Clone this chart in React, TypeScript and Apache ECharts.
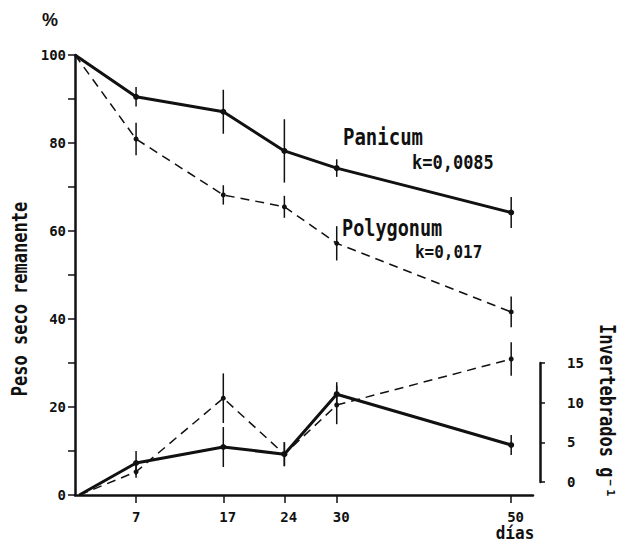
import React, { useEffect, useRef } from "react";
import * as echarts from "echarts";

// Remaining dry weight (%) vs days
const days = [0, 7, 17, 24, 30, 50];
const panicum = [100, 90.5, 87.1, 78.2, 74.3, 64.2];
const panicumErr = [0, 2.2, 5, 7.2, 2, 3.5];
const polygonum = [100, 80.9, 68.2, 65.5, 57.2, 41.6];
const polygonumErr = [0, 3.7, 2.2, 2.5, 3.9, 3.5];

// Invertebrates per g vs days
const invDays = [0.5, 7, 17, 24, 30, 50];
const invPanicum = [0, 4.0, 6.0, 5.1, 12.6, 6.25];
const invPanicumErr = [0, 1.5, 2.5, 1.5, 1.5, 1.25];
const invPolygonum = [0, 2.9, 12.1, 5.1, 11.25, 17];
const invPolygonumErr = [0, 0.75, 3.1, 1.5, 2.4, 2.1];

const xTicks = [7, 17, 24, 30, 50];
const invTicks = [0, 5, 10, 15];

const MONO = "'DejaVu Sans Mono', 'Liberation Mono', monospace";
const INK = "#111";

function lineData(xs: number[], ys: number[]) {
  return xs.map((x, i) =>
    i === 0 ? { value: [x, ys[i]], symbol: "none" } : { value: [x, ys[i]] }
  );
}

function errData(xs: number[], ys: number[], es: number[]) {
  return xs
    .map((x, i) => [x, ys[i] - es[i], ys[i] + es[i]])
    .filter((_, i) => es[i] > 0);
}

const errRender = (params: any, api: any) => {
  const x = api.value(0);
  const p1 = api.coord([x, api.value(1)]);
  const p2 = api.coord([x, api.value(2)]);
  return {
    type: "line",
    shape: { x1: p1[0], y1: p1[1], x2: p2[0], y2: p2[1] },
    style: { stroke: INK, lineWidth: 1.5 },
  };
};

export default function App() {
  const ref = useRef<HTMLDivElement>(null);
  useEffect(() => {
    if (!ref.current) return;
    const chart = echarts.init(ref.current, null, { renderer: "svg" });
    const axisNum = { fontFamily: MONO, fontSize: 14, fontWeight: "bold" as const, color: INK };
    const solidSeries = (name: string, xs: number[], ys: number[], yIdx: number) => ({
      name,
      type: "line",
      xAxisIndex: 0,
      yAxisIndex: yIdx,
      data: lineData(xs, ys),
      symbol: "circle",
      symbolSize: 6,
      lineStyle: { color: INK, width: 3 },
      itemStyle: { color: INK },
      z: 3,
    });
    const dashedSeries = (name: string, xs: number[], ys: number[], yIdx: number) => ({
      name,
      type: "line",
      xAxisIndex: 0,
      yAxisIndex: yIdx,
      data: lineData(xs, ys),
      symbol: "circle",
      symbolSize: 5,
      lineStyle: { color: INK, width: 1.5, type: [9, 6] },
      itemStyle: { color: INK },
      z: 2,
    });
    const errSeries = (xs: number[], ys: number[], es: number[], yIdx: number) => ({
      type: "custom",
      xAxisIndex: 0,
      yAxisIndex: yIdx,
      renderItem: errRender,
      data: errData(xs, ys, es),
      encode: { x: 0, y: [1, 2] },
      z: 1,
    });
    const txt = (text: string, size: number, extra: any = {}) => ({
      text,
      fontFamily: MONO,
      fontSize: size,
      fontWeight: "bold",
      fill: INK,
      align: "center",
      verticalAlign: "middle",
      ...extra,
    });

    chart.setOption({
      animation: false,
      backgroundColor: "#fff",
      grid: [
        { left: 75, right: 86, top: 55, bottom: 50, outerBoundsMode: "none" },
        { left: 540, width: 15, top: 363, height: 119, outerBoundsMode: "none" },
      ],
      xAxis: [
        {
          type: "value",
          gridIndex: 0,
          min: 0,
          max: 52.5,
          splitLine: { show: false },
          axisLine: { lineStyle: { color: INK, width: 2.5 } },
          axisTick: { customValues: xTicks, length: 8, lineStyle: { color: INK, width: 1.5 } },
          axisLabel: { customValues: xTicks, margin: 15, ...axisNum, align: "left", padding: [0, 0, 0, -4] },
        },
        { type: "value", gridIndex: 1, min: 0, max: 1, show: false },
      ],
      yAxis: [
        {
          type: "value",
          gridIndex: 0,
          min: 0,
          max: 100,
          interval: 10,
          splitLine: { show: false },
          axisLine: { show: true, lineStyle: { color: INK, width: 2.5 } },
          axisTick: { length: 7, lineStyle: { color: INK, width: 1.5 } },
          axisLabel: {
            margin: 9,
            ...axisNum,
            formatter: (v: number) => (v % 20 === 0 ? String(v) : ""),
          },
        },
        { type: "value", gridIndex: 0, min: 0, max: 55, show: false },
        {
          type: "value",
          gridIndex: 1,
          position: "right",
          min: 0,
          max: 15,
          interval: 5,
          splitLine: { show: false },
          axisLine: { show: true, lineStyle: { color: INK, width: 2.5 } },
          axisTick: { length: 5, lineStyle: { color: INK, width: 1.5 } },
          axisLabel: { margin: 12, ...axisNum, formatter: (v: number) => (invTicks.includes(v) ? String(v) : "") },
        },
      ],
      series: [
        errSeries(days, panicum, panicumErr, 0),
        errSeries(days, polygonum, polygonumErr, 0),
        errSeries(invDays, invPanicum, invPanicumErr, 1),
        errSeries(invDays, invPolygonum, invPolygonumErr, 1),
        solidSeries("Panicum", days, panicum, 0),
        dashedSeries("Polygonum", days, polygonum, 0),
        solidSeries("Panicum invertebrados", invDays, invPanicum, 1),
        dashedSeries("Polygonum invertebrados", invDays, invPolygonum, 1),
      ],
      graphic: [
        { type: "text", x: 50, y: 20, style: txt("%", 18, { fontFamily: "'Liberation Sans', Arial, sans-serif" }) },
        { type: "text", x: 20, y: 299, rotation: Math.PI / 2, scaleY: 1.2, style: txt("Peso seco remanente", 17) },
        { type: "text", x: 607, y: 411, rotation: -Math.PI / 2, scaleY: 1.2, style: txt("Invertebrados g⁻¹", 17) },
        { type: "text", x: 515, y: 533, scaleY: 1.15, style: txt("días", 16) },
        { type: "text", x: 343, y: 137, scaleY: 1.25, style: txt("Panicum", 19, { align: "left" }) },
        { type: "text", x: 412, y: 162, scaleY: 1.1, style: txt("k=0,0085", 17, { align: "left" }) },
        { type: "text", x: 342, y: 228, scaleY: 1.25, style: txt("Polygonum", 18.5, { align: "left" }) },
        { type: "text", x: 415, y: 252, scaleY: 1.1, style: txt("k=0,017", 16, { align: "left" }) },
      ],
    });
    return () => chart.dispose();
  }, []);
  return <div ref={ref} style={{ position: "absolute", left: 0, top: 0, width: 619, height: 545 }} />;
}
